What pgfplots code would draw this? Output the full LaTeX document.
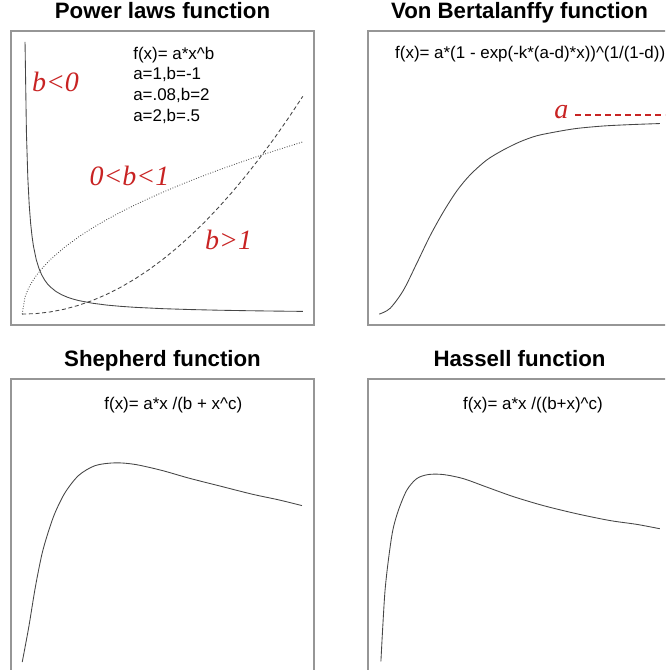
\documentclass[border=0pt]{standalone}
\usepackage{pgfplots}
\pgfplotsset{compat=1.18}
\usepackage{fontspec}
\setmainfont{Liberation Sans}
\newfontfamily\labfont{Liberation Serif}

\definecolor{boxgray}{RGB}{150,150,150}
\definecolor{curvegray}{RGB}{70,70,70}
\definecolor{labred}{RGB}{200,35,35}

\newcommand{\titlefont}{\fontsize{16.7}{20}\selectfont\bfseries}
\newcommand{\eqfont}{\fontsize{12.7}{15}\selectfont}
\newcommand{\redlab}[1]{{\labfont\itshape\fontsize{21}{24}\selectfont\color{labred}#1}}

\pgfplotsset{
  panel/.style={
    scale only axis,
    width=227.25pt, height=220.5pt,
    anchor=south west,
    xtick=\empty, ytick=\empty,
    xmin=-0.4, xmax=10.4,
    axis line style={draw=boxgray, line width=0.9pt},
    title style={font=\titlefont, at={(0.5,1)}, anchor=base, yshift=3.4pt},
    clip=false,
  },
  curve/.style={color=curvegray, line width=0.65pt},
}

\begin{document}
\begin{tikzpicture}
\useasboundingbox (0,0) rectangle (498.75pt,502.5pt);
\clip (0,0) rectangle (498.75pt,502.5pt);

% ---------------- Power laws ----------------
\begin{axis}[panel, at={(8.25pt,258.75pt)}, ymin=-0.4, ymax=10.4,
  title={Power laws function}]
  % a=1, b=-1
  \addplot[curve] coordinates {
    (0.1,10) (0.15,6.667) (0.2,5) (0.25,4) (0.3,3.333) (0.35,2.857)
    (0.4,2.5) (0.5,2) (0.6,1.667) (0.7,1.429) (0.8,1.25) (0.9,1.111)
    (1,1) (1.2,0.833) (1.4,0.714) (1.6,0.625) (1.8,0.556) (2,0.5)
    (2.5,0.4) (3,0.333) (3.5,0.286) (4,0.25) (5,0.2) (6,0.167)
    (7,0.143) (8,0.125) (9,0.111) (10,0.1)};
  % a=.08, b=2
  \addplot[curve, dash pattern=on 3pt off 2pt] coordinates {
    (0,0) (0.5,0.02) (1,0.08) (1.5,0.18) (2,0.32) (2.5,0.5) (3,0.72)
    (3.5,0.98) (4,1.28) (4.5,1.62) (5,2) (5.5,2.42) (6,2.88) (6.5,3.38)
    (7,3.92) (7.5,4.5) (8,5.12) (8.5,5.78) (9,6.48) (9.5,7.22) (10,8)};
  % a=2, b=.5
  \addplot[curve, dash pattern=on 0.6pt off 1.3pt] coordinates {
    (0,0) (0.1,0.632) (0.2,0.894) (0.3,1.095) (0.4,1.265) (0.5,1.414)
    (0.7,1.673) (1,2) (1.5,2.449) (2,2.828) (2.5,3.162) (3,3.464)
    (3.5,3.742) (4,4) (4.5,4.243) (5,4.472) (5.5,4.690) (6,4.899)
    (6.5,5.099) (7,5.292) (7.5,5.477) (8,5.657) (8.5,5.831) (9,6)
    (9.5,6.164) (10,6.325)};
  \node[anchor=base west, font=\eqfont, inner sep=0pt] at (axis cs:3.95,9.37) {f(x)= a*x\^{}b};
  \node[anchor=base west, font=\eqfont, inner sep=0pt] at (axis cs:3.95,8.60) {a=1,b=-1};
  \node[anchor=base west, font=\eqfont, inner sep=0pt] at (axis cs:3.95,7.85) {a=.08,b=2};
  \node[anchor=base west, font=\eqfont, inner sep=0pt] at (axis cs:3.95,7.09) {a=2,b=.5};
  \node[anchor=base west, inner sep=0pt] at (axis cs:0.34,8.17) {\redlab{b<0}};
  \node[anchor=base west, inner sep=0pt] at (axis cs:2.39,4.74) {\redlab{0<b<1}};
  \node[anchor=base west, inner sep=0pt] at (axis cs:6.51,2.39) {\redlab{b>1}};
\end{axis}

% ---------------- Von Bertalanffy ----------------
\begin{axis}[panel, at={(276pt,258.75pt)}, ymin=-0.04, ymax=1.04,
  title={Von Bertalanffy function}]
  \addplot[curve, smooth] coordinates {
    (0,0) (0.385,0.021) (0.859,0.087) (1.336,0.186) (1.810,0.287)
    (2.284,0.375) (2.762,0.452) (3.236,0.511) (3.831,0.566) (4.423,0.603)
    (5.018,0.633) (5.613,0.655) (6.326,0.670) (7.039,0.682) (7.987,0.691)
    (8.938,0.696) (10,0.700)};
  \addplot[color=labred, line width=1pt, dash pattern=on 4.5pt off 3pt] coordinates {
    (6.98,0.732) (10.9,0.732)};
  \node[anchor=base west, inner sep=0pt] at (axis cs:6.23,0.719) {\redlab{a}};
  \node[anchor=base west, font=\eqfont, inner sep=0pt] at (axis cs:0.56,0.939)
    {f(x)= a*(1 - exp(-k*(a-d)*x))\^{}(1/(1-d))};
\end{axis}

% ---------------- Shepherd ----------------
\begin{axis}[panel, at={(8.25pt,-2.25pt)}, ymin=-0.04, ymax=1.04,
  title={Shepherd function}]
  \addplot[curve, smooth] coordinates {
    (0,0) (0.232,0.128) (0.467,0.275) (0.706,0.398) (0.944,0.483)
    (1.180,0.551) (1.536,0.624) (2.014,0.686) (2.605,0.722) (3.318,0.732)
    (4.031,0.726) (4.982,0.704) (5.934,0.676) (7.003,0.648) (8.190,0.617)
    (9.141,0.596) (9.971,0.575)};
  \node[anchor=base west, font=\eqfont, inner sep=0pt] at (axis cs:2.92,0.929)
    {f(x)= a*x /(b + x\^{}c)};
\end{axis}

% ---------------- Hassell ----------------
\begin{axis}[panel, at={(276pt,-2.25pt)}, ymin=-0.04, ymax=1.04,
  title={Hassell function}]
  \addplot[curve, smooth] coordinates {
    (0.06,0.003) (0.125,0.128) (0.207,0.263) (0.324,0.373) (0.481,0.483)
    (0.681,0.557) (0.980,0.631) (1.336,0.674) (1.750,0.689) (2.284,0.689)
    (2.997,0.674) (3.831,0.643) (4.779,0.608) (5.848,0.575) (7.039,0.545)
    (8.225,0.520) (9.177,0.506) (10,0.490)};
  \node[anchor=base west, font=\eqfont, inner sep=0pt] at (axis cs:2.98,0.929)
    {f(x)= a*x /((b+x)\^{}c)};
\end{axis}
\end{tikzpicture}
\end{document}
